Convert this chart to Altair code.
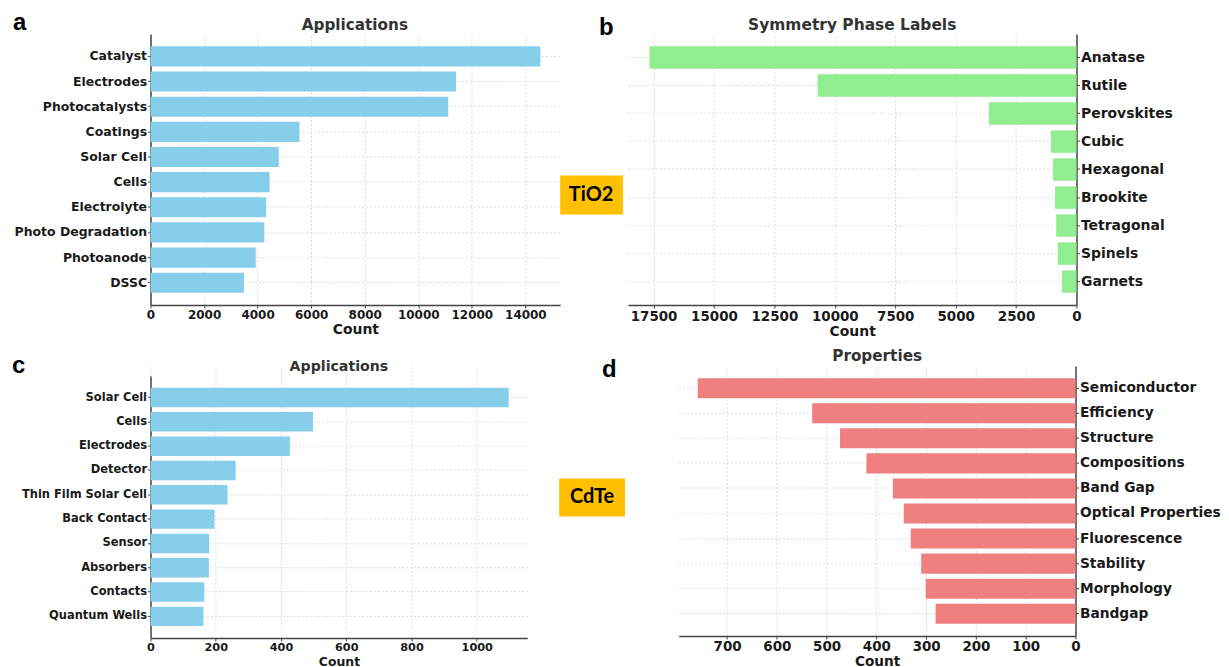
import altair as alt
import pandas as pd

# ---------------- data ----------------
a_labels = ["Catalyst", "Electrodes", "Photocatalysts", "Coatings", "Solar Cell",
            "Cells", "Electrolyte", "Photo Degradation", "Photoanode", "DSSC"]
a_counts = [14560, 11410, 11120, 5560, 4790, 4450, 4320, 4250, 3930, 3490]
a_ticks = [0, 2000, 4000, 6000, 8000, 10000, 12000, 14000]

b_labels = ["Anatase", "Rutile", "Perovskites", "Cubic", "Hexagonal",
            "Brookite", "Tetragonal", "Spinels", "Garnets"]
b_counts = [17670, 10710, 3620, 1060, 970, 890, 840, 770, 600]
b_ticks = [0, 2500, 5000, 7500, 10000, 12500, 15000, 17500]

c_labels = ["Solar Cell", "Cells", "Electrodes", "Detector", "Thin Film Solar Cell",
            "Back Contact", "Sensor", "Absorbers", "Contacts", "Quantum Wells"]
c_counts = [1098, 498, 427, 261, 236, 196, 180, 179, 165, 162]
c_ticks = [0, 200, 400, 600, 800, 1000]

d_labels = ["Semiconductor", "Efficiency", "Structure", "Compositions", "Band Gap",
            "Optical Properties", "Fluorescence", "Stability", "Morphology", "Bandgap"]
d_counts = [759, 529, 473, 420, 367, 345, 331, 310, 301, 281]
d_ticks = [0, 100, 200, 300, 400, 500, 600, 700]

FONT = "DejaVu Sans"
TXT = "#1a1a1a"
AXC = "#444444"
TC = "#333333"


def text_layer(txt, x, y, size, font=FONT, weight="bold", color="black",
               align="left", baseline="alphabetic"):
    return alt.Chart(pd.DataFrame({"t": [txt]})).mark_text(
        font=font, fontWeight=weight, fontSize=size, color=color,
        align=align, baseline=baseline
    ).encode(text="t:N", x=alt.value(x), y=alt.value(y))


def box_layer(x1, x2, y1, y2):
    return alt.Chart(pd.DataFrame({"t": [0]})).mark_rect(color="#FFC000").encode(
        x=alt.value(x1), x2=alt.value(x2), y=alt.value(y1), y2=alt.value(y2))


def common_axis(**kw):
    return alt.Axis(labelFont=FONT, labelFontWeight="bold", labelColor=TXT,
                    titleFont=FONT, titleFontWeight="bold", titleColor=TXT,
                    domainColor=AXC, domainWidth=1.5, tickColor=AXC, tickWidth=1,
                    grid=True, gridColor="#d9d9d9", gridDash=[2, 2], gridWidth=1,
                    tickSize=3, labelPadding=1, labelFlush=False, **kw)


def bars(labels, counts, color, xmax, ticks, reverse, orient, ylab, xlab, xtitle,
         pad_outer, yrange=None, tpad=2):
    df = pd.DataFrame({"label": labels, "count": counts})
    yscale = dict(paddingInner=0.2, paddingOuter=pad_outer)
    if yrange is not None:
        yscale["range"] = yrange
    return alt.Chart(df).mark_bar(color=color).encode(
        x=alt.X("count:Q",
                scale=alt.Scale(domain=[0, xmax], nice=False, reverse=reverse),
                axis=common_axis(values=ticks, format="d", title="Count",
                                 labelFontSize=xlab, titleFontSize=xtitle,
                                 titlePadding=tpad)),
        y=alt.Y("label:N", sort=labels, scale=alt.Scale(**yscale),
                axis=common_axis(title=None, orient=orient, labelFontSize=ylab,
                                 bandPosition=0.5)),
    )


# ---------------- panel a ----------------
pa = alt.layer(
    bars(a_labels, a_counts, "#87CEEB", 15300, a_ticks, False, "left",
         12.5, 12, 14, 0.49),
    text_layer("a", -138, -4, 24, font="Liberation Sans"),
    text_layer("Applications", 205, -4, 15.3, color=TC, align="center"),
).properties(width=411, height=272)

# ---------------- panel b ----------------
pb = alt.layer(
    bars(b_labels, b_counts, "#90EE90", 18560, b_ticks, True, "right",
         14, 13.5, 14, 0.44),
    text_layer("b", -29, 1, 24, font="Liberation Sans"),
    text_layer("Symmetry Phase Labels", 225, -4, 15.5, color=TC, align="center"),
    box_layer(-68, -5, 142, 181),
    text_layer("TiO2", -37, 162, 20, font="Lato", align="center", baseline="middle"),
).properties(width=450, height=272)

# ---------------- panel c ----------------
pc = alt.layer(
    bars(c_labels, c_counts, "#87CEEB", 1155, c_ticks, False, "left",
         11.5, 11.3, 12.5, 0.49, yrange=[10, 273]),
    text_layer("c", -139, 7, 24, font="Liberation Sans"),
    text_layer("Applications", 189, 5, 14.2, color=TC, align="center"),
).properties(width=378, height=273)

# ---------------- panel d ----------------
pd_ = alt.layer(
    bars(d_labels, d_counts, "#F08080", 797, d_ticks, True, "right",
         13.8, 13.5, 13.7, 0.49, tpad=1),
    text_layer("d", -77, 11, 24, font="Liberation Sans"),
    text_layer("Properties", 199, -5, 15.3, color=TC, align="center"),
    box_layer(-120, -54, 113, 151),
    text_layer("CdTe", -87, 132, 20, font="Lato", align="center", baseline="middle"),
).properties(width=398, height=271)

row1 = alt.hconcat(pa, pb, spacing=0)
row2 = alt.hconcat(pc, pd_, spacing=32)

chart = alt.vconcat(
    row1, row2, spacing=10,
    padding={"left": 4, "top": 2, "right": 0, "bottom": 0},
).configure_view(stroke=None)

chart.save("out.html", embed_options={"renderer": "svg", "actions": False})
